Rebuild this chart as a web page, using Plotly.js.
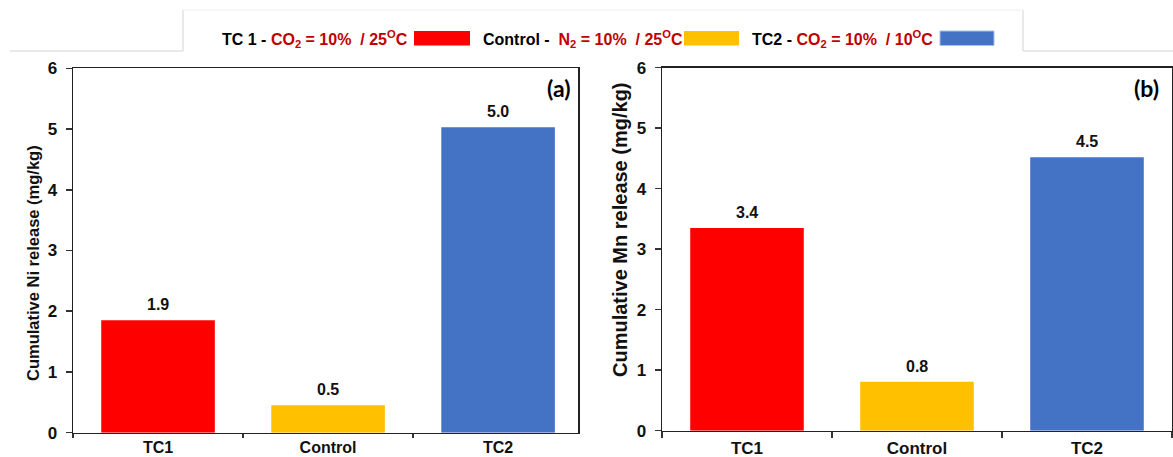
<!DOCTYPE html>
<html>
<head>
<meta charset="utf-8">
<script src="https://cdn.plot.ly/plotly-3.0.1.min.js"></script>
<style>
  html, body { margin: 0; padding: 0; background: #fff; }
  #chart { width: 1173px; height: 457px; }
</style>
</head>
<body>
<div id="chart"></div>
<script>
// ---- data ----
const categories = ['TC1', 'Control', 'TC2'];
const niValues = [1.85, 0.45, 5.03];
const niLabels = ['1.9', '0.5', '5.0'];
const mnValues = [3.35, 0.81, 4.52];
const mnLabels = ['3.4', '0.8', '4.5'];
const barColors = ['#ff0000', '#ffc000', '#4472c4'];
const yTickVals = [0, 1, 2, 3, 4, 5, 6];
const yTitleNi = 'Cumulative Ni release (mg/kg)';
const yTitleMn = 'Cumulative Mn release (mg/kg)';
const legendLabels = [
  '<b>TC 1 - <span style="color:#c00000">CO<sub>2</sub> = 10%&nbsp; / 25<sup>O</sup>C</span></b>',
  '<b>Control -&nbsp; <span style="color:#c00000">N<sub>2</sub> = 10%&nbsp; / 25<sup>O</sup>C</span></b>',
  '<b>TC2 - <span style="color:#c00000">CO<sub>2</sub> = 10%&nbsp; / 10<sup>O</sup>C</span></b>'
];

// ---- helpers (pixel -> paper) ----
const W = 1173, H = 457;
const px = v => v / W;
const py = v => (H - v) / H;

const font = 'Liberation Sans, Arial, sans-serif';

const traces = [
  { type: 'bar', x: categories, y: niValues, xaxis: 'x', yaxis: 'y',
    marker: { color: barColors, line: { width: 0 } }, width: 0.668,
    hoverinfo: 'x+y', showlegend: false },
  { type: 'bar', x: categories, y: mnValues, xaxis: 'x2', yaxis: 'y2',
    marker: { color: barColors, line: { width: 0 } }, width: 0.668,
    hoverinfo: 'x+y', showlegend: false }
];

const annotations = [];
categories.forEach((c, i) => {
  annotations.push({ xref: 'x', yref: 'y', x: c, y: niValues[i], text: '<b>' + niLabels[i] + '</b>',
    showarrow: false, yanchor: 'bottom', yshift: 5, font: { family: font, size: 16, color: '#111' } });
  annotations.push({ xref: 'x2', yref: 'y2', x: c, y: mnValues[i], text: '<b>' + mnLabels[i] + '</b>',
    showarrow: false, yanchor: 'bottom', yshift: 5, font: { family: font, size: 16, color: '#111' } });
});
annotations.push({ xref: 'paper', yref: 'paper', x: px(558), y: py(88), text: '<b>(a)</b>',
  showarrow: false, xanchor: 'center', yanchor: 'middle', font: { family: 'Lato, sans-serif', size: 23, color: '#000' } });
annotations.push({ xref: 'paper', yref: 'paper', x: px(1146), y: py(88), text: '<b>(b)</b>',
  showarrow: false, xanchor: 'center', yanchor: 'middle', font: { family: 'Lato, sans-serif', size: 23, color: '#000' } });

// y-axis titles
annotations.push({ xref: 'paper', yref: 'paper', x: px(33), y: py(263), text: '<b>' + yTitleNi + '</b>', textangle: -90,
  showarrow: false, xanchor: 'center', yanchor: 'middle', font: { family: font, size: 16.5, color: '#111' } });
annotations.push({ xref: 'paper', yref: 'paper', x: px(620), y: py(230), text: '<b>' + yTitleMn + '</b>', textangle: -90,
  showarrow: false, xanchor: 'center', yanchor: 'middle', font: { family: font, size: 20, color: '#111' } });

// legend text
const legendX = [220, 481, 750];
legendLabels.forEach((t, i) => {
  annotations.push({ xref: 'paper', yref: 'paper', x: px(legendX[i]), y: py(39), text: t,
    showarrow: false, xanchor: 'left', yanchor: 'middle', font: { family: font, size: 16, color: '#000' } });
});

const swatches = [[414, 470], [684, 739], [940, 994]];
const shapes = swatches.map((s, i) => ({
  type: 'rect', xref: 'paper', yref: 'paper', x0: px(s[0]), x1: px(s[1]), y0: py(45.5), y1: py(31),
  fillcolor: barColors[i], line: { width: i === 2 ? 1 : 0, color: '#a9bde6' }
}));
const boxLine = { color: '#d4d4d4', width: 1 };
shapes.push({ type: 'line', xref: 'paper', yref: 'paper', x0: px(183), x1: px(183), y0: py(10), y1: py(51), line: boxLine });
shapes.push({ type: 'line', xref: 'paper', yref: 'paper', x0: px(1023), x1: px(1023), y0: py(10), y1: py(51), line: boxLine });
shapes.push({ type: 'line', xref: 'paper', yref: 'paper', x0: px(10), x1: px(183), y0: py(51), y1: py(51), line: boxLine });
shapes.push({ type: 'line', xref: 'paper', yref: 'paper', x0: px(1023), x1: px(1173), y0: py(51), y1: py(51), line: boxLine });
shapes.push({ type: 'line', xref: 'paper', yref: 'paper', x0: px(183), x1: px(1023), y0: py(10), y1: py(10), line: { color: '#f0f0f0', width: 1 } });

const tickFont = { family: font, size: 17, color: '#111', weight: 700 };
const xCommon = {
  type: 'category', tickson: 'boundaries', ticks: 'outside', ticklen: 6, tickwidth: 1.5, tickcolor: '#333',
  showline: true, mirror: true, linecolor: '#222', linewidth: 1.5, showgrid: false, zeroline: false,
  tickfont: tickFont, fixedrange: true
};
const yCommon = {
  range: [0, 6], tickvals: yTickVals, ticks: 'outside', ticklen: 6, tickwidth: 1.5, tickcolor: '#333',
  showline: true, mirror: true, linecolor: '#222', linewidth: 1.5, showgrid: false, zeroline: false,
  tickfont: tickFont, ticklabelstandoff: 5, fixedrange: true
};

const layout = {
  width: W, height: H,
  margin: { l: 0, r: 0, t: 0, b: 0 },
  paper_bgcolor: '#fff', plot_bgcolor: '#fff',
  showlegend: false,
  bargap: 0.332,
  xaxis: Object.assign({}, xCommon, { domain: [px(73), px(578)], range: [-0.5, 2.47], anchor: 'y', ticklabelstandoff: 0, ticklen: 4,
    tickfont: { family: font, size: 16, color: '#111', weight: 700 } }),
  yaxis: Object.assign({}, yCommon, { domain: [py(432.7), py(68.3)], anchor: 'x' }),
  xaxis2: Object.assign({}, xCommon, { domain: [px(662), px(1172)], range: [-0.5, 2.5], anchor: 'y2', ticklabelstandoff: 1 }),
  yaxis2: Object.assign({}, yCommon, { domain: [py(430.7), py(67.7)], anchor: 'x2' }),
  annotations: annotations,
  shapes: shapes
};

Plotly.newPlot('chart', traces, layout, { displayModeBar: false, staticPlot: true });
</script>
</body>
</html>
